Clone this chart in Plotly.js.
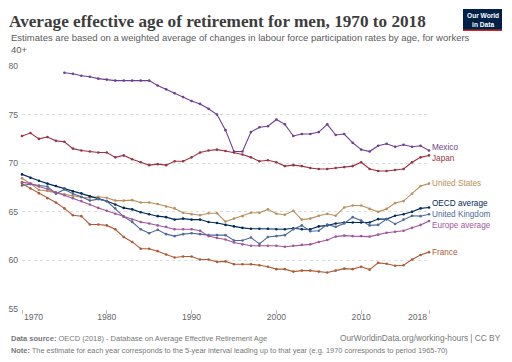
<!DOCTYPE html>
<html>
<head>
<meta charset="utf-8">
<script src="https://cdn.plot.ly/plotly-3.0.1.min.js"></script>
<style>html,body{margin:0;padding:0;background:#fff;}#chart{width:512px;height:362px;}</style>
</head>
<body>
<div id="chart"></div>
<script>
const years = [];
for (let y = 1970; y <= 2018; y++) years.push(y);

const seriesNames = ["Mexico", "Japan", "United States", "OECD average", "United Kingdom", "Europe average", "France"];

const mexico = [null, null, null, null, null,
  79.3, 79.2, 79.0, 78.9, 78.7,
  78.6, 78.5, 78.5, 78.5, 78.5,
  78.5, 78.0, 77.6, 77.2, 76.8,
  76.4, 76.1, 75.6, 75.0, 73.4,
  71.2, 71.2, 73.2, 73.7, 73.8,
  74.5, 74.0, 72.8, 73.0, 73.0,
  73.2, 74.0, 72.9, 73.0, 72.1,
  71.4, 71.2, 71.8, 72.0, 71.7,
  71.9, 71.7, 71.8, 71.3];

const japan = [72.8, 73.1, 72.5, 72.7, 72.3,
  72.2, 71.5, 71.3, 71.2, 71.1,
  71.1, 70.6, 70.8, 70.4, 70.1,
  69.8, 69.9, 69.8, 70.2, 70.2,
  70.6, 71.1, 71.3, 71.4, 71.25,
  71.1, 70.9, 70.6, 70.2, 70.3,
  70.1, 69.7, 69.8, 69.7, 69.5,
  69.4, 69.4, 69.5, 69.6, 69.7,
  70.1, 69.4, 69.2, 69.2, 69.3,
  69.4, 70.1, 70.6, 70.8];

const unitedStates = [68.45, 67.9, 67.25, 67.15, 66.95,
  66.8, 66.6, 66.5, 66.45, 66.55,
  66.45, 66.15, 66.15, 66.2, 65.95,
  65.95, 65.8, 65.55, 65.35, 64.9,
  64.75, 64.65, 64.85, 64.85, 64.0,
  64.3, 64.55, 64.9, 64.9, 65.25,
  64.8, 64.7, 65.1, 64.2, 64.3,
  64.6, 64.8, 64.6, 65.45, 65.65,
  65.65, 65.3, 65.0, 65.3, 65.9,
  66.1, 66.85, 67.65, 67.9];

const oecd = [68.85, 68.5, 68.2, 67.9, 67.65,
  67.4, 67.1, 66.9, 66.6, 66.35,
  66.1, 65.75, 65.4, 65.25, 64.95,
  64.75, 64.55, 64.45, 64.2, 64.3,
  64.2, 64.2, 63.95, 63.85, 63.65,
  63.5, 63.35, 63.25, 63.25, 63.25,
  63.2, 63.2, 63.3, 63.2, 63.2,
  63.5, 63.6, 63.8, 63.9, 63.9,
  63.9, 63.9, 64.25, 64.25, 64.6,
  64.75, 65.0, 65.35, 65.45];

const unitedKingdom = [67.7, 67.85, 67.7, 67.6, 66.85,
  67.3, 66.85, 66.55, 66.15, 66.3,
  66.1, 65.35, 64.5, 63.95, 63.2,
  62.8, 63.15, 62.7, 62.5, 62.7,
  62.8, 62.7, 62.6, 62.6, 62.6,
  62.05, 62.05, 62.35, 61.7, 62.4,
  62.5, 62.6, 63.2, 63.6, 63.0,
  63.05, 63.7, 63.45, 63.8, 64.45,
  64.1, 63.6, 63.65, 64.25, 63.75,
  64.2, 64.6, 64.55, 64.75];

const europe = [68.05, 67.9, 67.6, 67.35, 67.0,
  66.7, 66.4, 66.1, 65.75, 65.4,
  65.1, 64.8, 64.5, 64.2, 63.95,
  63.8, 63.6, 63.45, 63.2, 63.2,
  63.2, 63.05, 62.5, 62.3, 62.15,
  61.85, 61.65, 61.5, 61.5, 61.5,
  61.5, 61.4, 61.5, 61.6, 61.65,
  61.9, 62.1, 62.45, 62.55, 62.5,
  62.5, 62.45, 62.65, 62.85, 62.95,
  63.05, 63.35, 63.65, 64.05];

const france = [67.9, 67.4, 66.9, 66.4, 65.95,
  65.35, 64.65, 64.55, 63.7, 63.7,
  63.6, 63.2, 62.4, 61.9, 61.2,
  61.2, 60.95, 60.6, 60.3, 60.4,
  60.4, 60.1, 60.1, 59.85, 59.9,
  59.6, 59.6, 59.6, 59.5, 59.35,
  59.1, 59.1, 58.85, 58.95, 58.95,
  58.85, 58.75, 58.95, 59.15, 59.1,
  59.35, 59.05, 59.75, 59.65, 59.45,
  59.5, 60.1, 60.55, 60.85];

// y positions of the end labels (spread to avoid overlap)
const labelY = [71.57, 70.44, 67.87, 65.85, 64.69, 63.56, 60.81];

const yTicks = [55, 60, 65, 70, 75, 80];
const xTicks = [1970, 1980, 1990, 2000, 2010, 2018];

const seriesValues = [mexico, japan, unitedStates, oecd, unitedKingdom, europe, france];
const colors = ["#6D3E91", "#9A3344", "#BC8E5A", "#00295B", "#4C6A9C", "#A2559C", "#B05A34"];

const W = 512, H = 362;
const M = {l: 22, r: 83, t: 66, b: 53};
const PW = W - M.l - M.r, PH = H - M.t - M.b;
const px = x => (x - M.l) / PW;
const py = y => (H - M.b - y) / PH;

const sans = "Liberation Sans, Arial, sans-serif";

const traces = seriesValues.map((vals, i) => ({
  type: "scatter", mode: "lines+markers",
  x: years, y: vals, name: seriesNames[i],
  line: {color: colors[i], width: 1.1},
  marker: {color: colors[i], size: 2.6},
  connectgaps: false, hoverinfo: "skip", cliponaxis: false
}));

const annotations = [];
seriesNames.forEach((n, i) => {
  annotations.push({
    x: 2018, y: labelY[i], xref: "x", yref: "y", text: n, showarrow: false,
    xanchor: "left", yanchor: "middle", xshift: 1,
    font: {family: sans, size: 8.2, color: colors[i]}
  });
});
// end tick labels shifted inward
annotations.push({x: 1970, y: py(317), xref: "x", yref: "paper", text: "1970", showarrow: false,
  xanchor: "left", yanchor: "middle", font: {family: sans, size: 8.6, color: "#666"}});
annotations.push({x: 2018, y: py(317), xref: "x", yref: "paper", text: "2018", showarrow: false,
  xanchor: "right", yanchor: "middle", font: {family: sans, size: 8.6, color: "#666"}});

// subtitle
annotations.push({x: px(9), y: py(43.5), xref: "paper", yref: "paper", xanchor: "left", yanchor: "middle",
  showarrow: false, align: "left",
  text: "Estimates are based on a weighted average of changes in labour force participation rates by age, for workers<br>40+",
  font: {family: sans, size: 9.5, color: "#5b5b5b"}});
// footer
annotations.push({x: px(9), y: py(338), xref: "paper", yref: "paper", xanchor: "left", yanchor: "middle",
  showarrow: false, align: "left",
  text: "<b>Data source:</b> OECD (2018) - Database on Average Effective Retirement Age",
  font: {family: sans, size: 7.5, color: "#777"}});
annotations.push({x: px(503), y: py(338), xref: "paper", yref: "paper", xanchor: "right", yanchor: "middle",
  showarrow: false, align: "right",
  text: "OurWorldinData.org/working-hours | CC BY",
  font: {family: sans, size: 8.3, color: "#777"}});
annotations.push({x: px(9), y: py(351), xref: "paper", yref: "paper", xanchor: "left", yanchor: "middle",
  showarrow: false, align: "left",
  text: "<b>Note:</b> The estimate for each year corresponds to the 5-year interval leading up to that year (e.g. 1970 corresponds to period 1965-70)",
  font: {family: sans, size: 7.4, color: "#777"}});
// logo text
annotations.push({x: px(482.5), y: py(19.5), xref: "paper", yref: "paper", xanchor: "center", yanchor: "middle",
  showarrow: false, align: "center",
  text: "<b>Our World<br>in Data</b>",
  font: {family: sans, size: 6.6, color: "#ffffff"}});

const shapes = [
  {type: "rect", xref: "paper", yref: "paper", x0: px(463), x1: px(502), y0: py(31), y1: py(9),
   fillcolor: "#002147", line: {width: 0}, layer: "above"},
  {type: "rect", xref: "paper", yref: "paper", x0: px(463), x1: px(502), y0: py(31), y1: py(29.6),
   fillcolor: "#ce261e", line: {width: 0}, layer: "above"}
];

const layout = {
  width: W, height: H,
  margin: M,
  paper_bgcolor: "#fff", plot_bgcolor: "#fff",
  showlegend: false,
  title: {
    text: "<b>Average effective age of retirement for men, 1970 to 2018</b>",
    x: 9 / W, xanchor: "left", xref: "container",
    y: 1 - 20.5 / H, yanchor: "middle", yref: "container",
    font: {family: "Liberation Serif, serif", size: 17.2, color: "#3d3d3d"}
  },
  xaxis: {
    range: [1970, 2018], tickvals: xTicks,
    ticktext: xTicks.map(v => (v === 1970 || v === 2018) ? "" : String(v)),
    showgrid: false, zeroline: false, showline: false,
    ticks: "outside", ticklen: 4, tickcolor: "#bbb", tickwidth: 1,
    ticklabelstandoff: -4,
    tickfont: {family: sans, size: 8.6, color: "#666"}
  },
  yaxis: {
    range: [55, 80], tickvals: yTicks, ticktext: yTicks.map(String),
    showgrid: true, gridcolor: "#ddd", griddash: "3px,3px", gridwidth: 1,
    zeroline: false, showline: false, ticks: "",
    ticklabelstandoff: 3,
    tickfont: {family: sans, size: 8.6, color: "#666"}
  },
  annotations: annotations,
  shapes: shapes
};

Plotly.newPlot("chart", traces, layout, {displayModeBar: false, staticPlot: true});
</script>
</body>
</html>
